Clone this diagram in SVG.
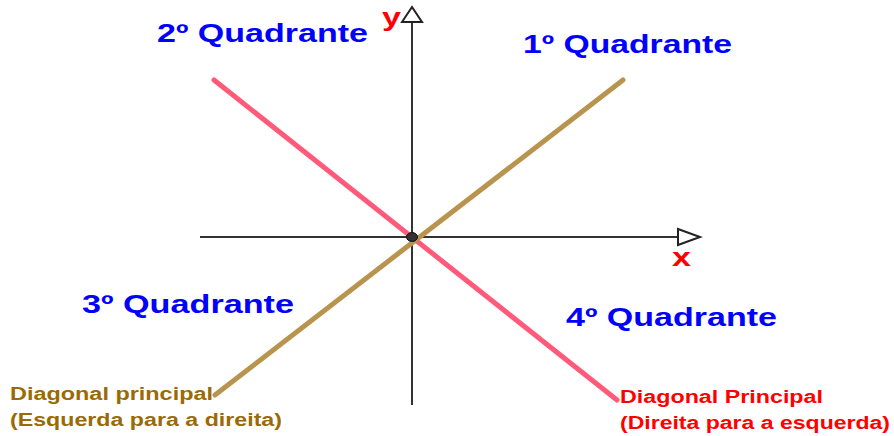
<svg xmlns="http://www.w3.org/2000/svg" width="894" height="436" viewBox="0 0 894 436">
<style>
.q{font-family:"Liberation Sans",Arial,sans-serif;font-weight:bold;font-size:26px;fill:#0000ff}
.lb{font-family:"Liberation Sans",Arial,sans-serif;font-weight:bold;font-size:18px}
.ax{stroke:#333;stroke-width:2;fill:none}
.ah{stroke:#222;stroke-width:2;fill:#fff;stroke-linejoin:miter}
.axl{font-family:"Liberation Sans",Arial,sans-serif;font-weight:bold;font-size:26px;fill:#ff0000}
</style>
<rect width="894" height="436" fill="#fff"/>
<g id="connectors">
<g id="axes">
<line class="ax" x1="200" y1="237" x2="678" y2="237"/>
<line class="ax" x1="412" y1="405" x2="412" y2="22"/>
<polygon class="ah" points="678,229 700,237 678,245"/>
<polygon class="ah" points="402,22 412,7 422,22"/>
</g>
<line id="diag-pink" x1="214" y1="80" x2="617" y2="400" stroke="#ff5a7a" stroke-width="5" stroke-linecap="round"/>
<line id="diag-tan" x1="215" y1="395" x2="623" y2="80" stroke="#b8944f" stroke-width="5" stroke-linecap="round"/>
</g>
<g id="origin"><ellipse cx="412" cy="237" rx="5.5" ry="4.5" fill="#333" stroke="#111" stroke-width="1"/></g>
<g id="axis-labels">
<text class="axl" x="382" y="26" textLength="19" lengthAdjust="spacingAndGlyphs">y</text>
<text class="axl" x="672" y="266" textLength="19" lengthAdjust="spacingAndGlyphs">x</text>
</g>
<g id="q1"><text class="q" x="523" y="53" textLength="209" lengthAdjust="spacingAndGlyphs">1º Quadrante</text></g>
<g id="q2"><text class="q" x="157" y="42" textLength="211" lengthAdjust="spacingAndGlyphs">2º Quadrante</text></g>
<g id="q3"><text class="q" x="82" y="313" textLength="212" lengthAdjust="spacingAndGlyphs">3º Quadrante</text></g>
<g id="q4"><text class="q" x="566" y="326" textLength="211" lengthAdjust="spacingAndGlyphs">4º Quadrante</text></g>
<g id="label-tan">
<text class="lb" fill="#9c6a05" x="10" y="400" textLength="203" lengthAdjust="spacingAndGlyphs">Diagonal principal</text>
<text class="lb" fill="#9c6a05" x="10" y="426" textLength="272" lengthAdjust="spacingAndGlyphs">(Esquerda para a direita)</text>
</g>
<g id="label-pink">
<text class="lb" fill="#ff0000" x="620" y="403" textLength="203" lengthAdjust="spacingAndGlyphs">Diagonal Principal</text>
<text class="lb" fill="#ff0000" x="620" y="429" textLength="270" lengthAdjust="spacingAndGlyphs">(Direita para a esquerda)</text>
</g>
</svg>
